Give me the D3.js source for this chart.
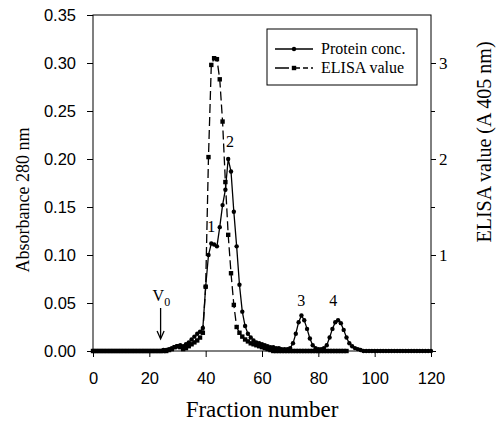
<!DOCTYPE html>
<html>
<head>
<meta charset="utf-8">
<script src="https://cdn.jsdelivr.net/npm/d3@7"></script>
<style>
  body { margin: 0; background: #fff; }
  .sans { font-family: "Liberation Sans", Arial, sans-serif; }
  .serif { font-family: "Liberation Serif", "Times New Roman", serif; }
</style>
</head>
<body>
<div id="chart"></div>
<script>
// fraction numbers
const proteinFractions = d3.range(0, 121);
const elisaFractions = d3.range(0, 91);

// absorbance at 280 nm, one value per fraction 0..120
const proteinValues = [
  0, 0, 0, 0, 0, 0, 0, 0, 0, 0,
  0, 0, 0, 0, 0, 0, 0, 0, 0, 0,
  0, 0, 0, 0, 0, 0.001, 0.001, 0.002, 0.003, 0.004,
  0.005, 0.006, 0.005, 0.007, 0.009, 0.012, 0.015, 0.018, 0.020, 0.024,
  0.067, 0.100, 0.112, 0.111, 0.109, 0.129, 0.152, 0.168, 0.200, 0.187,
  0.145, 0.109, 0.069, 0.041, 0.026, 0.018, 0.014, 0.011, 0.009, 0.008,
  0.007, 0.006, 0.005, 0.004, 0.004, 0.003, 0.003, 0.002, 0.002, 0.002,
  0.003, 0.008, 0.018, 0.030, 0.037, 0.032, 0.023, 0.013, 0.006, 0.003,
  0.002, 0.002, 0.003, 0.006, 0.014, 0.023, 0.030, 0.032, 0.029, 0.022,
  0.014, 0.008, 0.005, 0.003, 0.002, 0.001, 0, 0, 0, 0,
  0, 0, 0, 0, 0, 0, 0, 0, 0, 0,
  0, 0, 0, 0, 0, 0, 0, 0, 0, 0,
  0
];

// ELISA value (A 405 nm), one value per fraction 0..90
const elisaValues = [
  0, 0, 0, 0, 0, 0, 0, 0, 0, 0,
  0, 0, 0, 0, 0, 0, 0, 0, 0, 0,
  0, 0, 0, 0, 0, 0, 0, 0.01, 0.02, 0.04,
  0.05, 0.04, 0.02, 0.03, 0.05, 0.07, 0.09, 0.11, 0.14, 0.19,
  0.67, 2.02, 2.98, 3.05, 3.04, 2.83, 2.39, 1.76, 1.21, 0.81,
  0.48, 0.25, 0.19, 0.15, 0.12, 0.10, 0.08, 0.07, 0.06, 0.05,
  0.04, 0.03, 0.02, 0.01, 0, 0, 0, 0, 0, 0,
  0, 0, 0, 0, 0, 0, 0, 0, 0, 0,
  0, 0, 0, 0, 0, 0, 0, 0, 0, 0,
  0
];

const xTicks = [0, 20, 40, 60, 80, 100, 120];
const leftTicks = [0, 0.05, 0.10, 0.15, 0.20, 0.25, 0.30, 0.35];
const rightMajor = [0, 1, 2, 3];
const rightMinor = [0.5, 1.5, 2.5];

// peak labels: [fraction, absorbance at baseline, text]
const peakLabels = [[42.0, 0.124, "1"], [48.6, 0.213, "2"], [73.9, 0.047, "3"], [85.3, 0.047, "4"]];
const voidFraction = 24;

const width = 497, height = 423;
const margin = {top: 15, right: 66, bottom: 72, left: 93};

const svg = d3.select("#chart").append("svg")
  .attr("width", width)
  .attr("height", height);

const x = d3.scaleLinear().domain([0, 120]).range([margin.left, width - margin.right]);
const yL = d3.scaleLinear().domain([0, 0.35]).range([height - margin.bottom, margin.top]);
const yR = d3.scaleLinear().domain([0, 3.5]).range([height - margin.bottom, margin.top]);

// frame
svg.append("rect")
  .attr("x", x(0)).attr("y", yL(0.35))
  .attr("width", x(120) - x(0)).attr("height", yL(0) - yL(0.35))
  .attr("fill", "none").attr("stroke", "#000").attr("stroke-width", 1);

const xAxis = svg.append("g")
  .attr("class", "sans")
  .attr("transform", "translate(0," + yL(0) + ")")
  .call(d3.axisBottom(x).tickValues(xTicks).tickSize(6).tickPadding(15).tickFormat(d3.format("d")));
xAxis.select(".domain").remove();
xAxis.selectAll("text").attr("font-size", 16.5).attr("fill", "#000").attr("font-family", null);

const leftAxis = svg.append("g")
  .attr("class", "sans")
  .attr("transform", "translate(" + x(0) + ",0)")
  .call(d3.axisLeft(yL).tickValues(leftTicks).tickSize(6).tickPadding(11).tickFormat(d3.format(".2f")));
leftAxis.select(".domain").remove();
leftAxis.selectAll("text").attr("font-size", 16.5).attr("fill", "#000").attr("font-family", null);

const rightAxis = svg.append("g")
  .attr("class", "serif")
  .attr("transform", "translate(" + x(120) + ",0)")
  .call(d3.axisRight(yR).tickValues(rightMajor).tickSize(5).tickPadding(3)
    .tickFormat(d => d === 0 ? "" : d3.format("d")(d)));
rightAxis.select(".domain").remove();
rightAxis.selectAll("text").attr("font-size", 17).attr("fill", "#000").attr("font-family", null);

const rightMinorAxis = svg.append("g")
  .attr("transform", "translate(" + x(120) + ",0)")
  .call(d3.axisRight(yR).tickValues(rightMinor).tickSize(4).tickFormat(""));
rightMinorAxis.select(".domain").remove();

// axis titles
svg.append("text").attr("class", "serif")
  .attr("x", (x(0) + x(120)) / 2).attr("y", 417)
  .attr("text-anchor", "middle").attr("font-size", 23)
  .text("Fraction number");

svg.append("text").attr("class", "serif")
  .attr("transform", "translate(29,200) rotate(-90)")
  .attr("text-anchor", "middle").attr("font-size", 18)
  .text("Absorbance 280 nm");

svg.append("text").attr("class", "serif")
  .attr("transform", "translate(491,142) rotate(-90)")
  .attr("text-anchor", "middle").attr("font-size", 20)
  .text("ELISA value (A 405 nm)");

// series
const protein = proteinFractions.map((f, i) => ({f: f, v: proteinValues[i]}));
const elisa = elisaFractions.map((f, i) => ({f: f, v: elisaValues[i]}));

svg.append("path")
  .datum(elisa)
  .attr("fill", "none").attr("stroke", "#000").attr("stroke-width", 1.3)
  .attr("stroke-dasharray", "9,4")
  .attr("d", d3.line().x(d => x(d.f)).y(d => yR(d.v)));

svg.append("g").selectAll("rect")
  .data(elisa)
  .join("rect")
  .attr("x", d => x(d.f) - 2.2).attr("y", d => yR(d.v) - 2.2)
  .attr("width", 4.4).attr("height", 4.4)
  .attr("fill", "#000");

svg.append("path")
  .datum(protein)
  .attr("fill", "none").attr("stroke", "#000").attr("stroke-width", 1.3)
  .attr("d", d3.line().x(d => x(d.f)).y(d => yL(d.v)));

svg.append("g").selectAll("circle")
  .data(protein)
  .join("circle")
  .attr("cx", d => x(d.f)).attr("cy", d => yL(d.v))
  .attr("r", 2.2)
  .attr("fill", "#000");

// peak numbers
svg.append("g").attr("class", "serif").selectAll("text")
  .data(peakLabels)
  .join("text")
  .attr("x", d => x(d[0])).attr("y", d => yL(d[1]))
  .attr("text-anchor", "middle").attr("font-size", 16)
  .attr("fill", "#000")
  .text(d => d[2]);

// void volume marker
const vx = x(voidFraction);
const v0 = svg.append("text").attr("class", "serif")
  .attr("x", vx - 8).attr("y", 301).attr("font-size", 16);
v0.append("tspan").text("V");
v0.append("tspan").attr("dy", 5).attr("font-size", 12).text("0");
svg.append("line")
  .attr("x1", vx).attr("x2", vx).attr("y1", 308).attr("y2", 338)
  .attr("stroke", "#000").attr("stroke-width", 1.3);
svg.append("path")
  .attr("d", "M" + (vx - 3.5) + ",331 L" + vx + ",339 L" + (vx + 3.5) + ",331")
  .attr("fill", "none").attr("stroke", "#000").attr("stroke-width", 1.3);

// legend
const legend = svg.append("g").attr("transform", "translate(267,29)");
legend.append("rect")
  .attr("width", 150).attr("height", 56)
  .attr("fill", "#fff").attr("stroke", "#000").attr("stroke-width", 1);

const p = legend.append("g").attr("transform", "translate(0,20)");
p.append("line").attr("x1", 8).attr("x2", 46).attr("stroke", "#000").attr("stroke-width", 1.3);
p.append("circle").attr("cx", 27).attr("r", 2.2).attr("fill", "#000");
p.append("text").attr("class", "serif").attr("x", 54).attr("y", 5).attr("font-size", 16).text("Protein conc.");

const e = legend.append("g").attr("transform", "translate(0,39)");
e.append("line").attr("x1", 8).attr("x2", 46).attr("stroke", "#000").attr("stroke-width", 1.3)
  .attr("stroke-dasharray", "14,6,5,3,5,3");
e.append("rect").attr("x", 24.8).attr("y", -2.2).attr("width", 4.4).attr("height", 4.4).attr("fill", "#000");
e.append("text").attr("class", "serif").attr("x", 54).attr("y", 5).attr("font-size", 16).text("ELISA value");
</script>
</body>
</html>
